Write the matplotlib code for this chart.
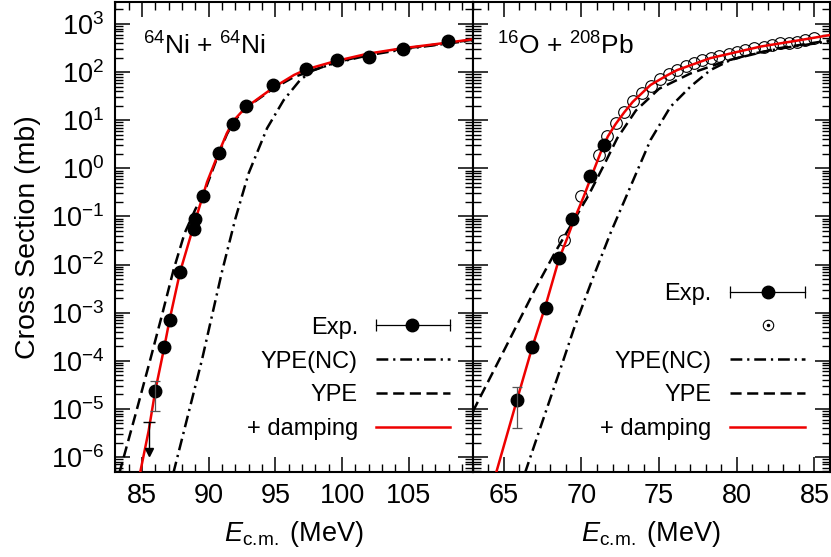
import numpy as np
import matplotlib
matplotlib.use("Agg")
import matplotlib.pyplot as plt
from matplotlib.ticker import LogLocator, MultipleLocator, NullFormatter, FixedLocator

plt.rcParams['font.family'] = ['Liberation Sans', 'DejaVu Sans']
plt.rcParams['mathtext.fontset'] = 'custom'
plt.rcParams['mathtext.rm'] = 'Liberation Sans'
plt.rcParams['mathtext.it'] = 'Liberation Sans:italic'
plt.rcParams['mathtext.bf'] = 'Liberation Sans:bold'
plt.rcParams['mathtext.default'] = 'regular'
plt.rcParams['lines.scale_dashes'] = False

# ---------------- Left panel: 64Ni + 64Ni ----------------
ni_exp_E = [85.98, 86.67, 87.07, 87.86, 88.87, 89.0, 89.55, 90.75, 91.83,
            92.82, 94.83, 97.33, 99.63, 102.0, 104.58, 107.98]
ni_exp_sig = [2.4e-5, 1.9e-4, 7.0e-4, 7.0e-3, 0.056, 0.089, 0.26, 2.1, 8.3,
              19.7, 54, 114, 178, 209, 298, 443]
ni_err_E = [85.98]
ni_err_sig = [2.4e-5]
ni_err_lo = [1.49e-5]
ni_err_hi = [1.4e-5]
ni_ul_E = [85.5]
ni_ul_sig = [5.4e-6]
ni_ul_tip = [1.3e-6]

ni_damp_E = [84.88, 85.5, 86.0, 86.67, 87.07, 87.86, 88.87, 89.55, 89.88, 90.75,
             91.37, 91.9, 92.82, 93.37, 94.87, 96.4, 97.33, 99.4, 101.9, 104.4,
             107.0, 109.8]
ni_damp_sig = [5.0e-7, 3.5e-6, 2.4e-5, 1.9e-4, 7.1e-4, 7.1e-3, 0.063, 0.26, 0.52, 2.1,
               5.4, 10, 19, 24, 48, 87, 114, 166, 240, 309,
               380, 479]

ni_ype_E = [83.3, 84.5, 85.62, 86.5, 87.37, 88.2, 89.0, 89.6, 90.75, 91.37,
            91.9, 92.82, 93.37, 94.87, 96.4, 97.9, 99.4, 101.9, 104.4, 107.0, 109.8]
ni_ype_sig = [4.6e-7, 7.4e-6, 1.05e-4, 8.9e-4, 7.8e-3, 0.045, 0.14, 0.28, 2.0, 5.1,
              9.5, 18, 23.4, 46, 79, 110, 155, 229, 302, 372, 468]

ni_nc_E = [87.35, 89.5, 91.0, 92.0, 93.0, 94.38, 95.62, 96.87, 97.87, 99.5,
           102.0, 105.0, 109.8]
ni_nc_sig = [4.6e-7, 1.05e-4, 7.1e-3, 0.089, 0.79, 6.8, 26, 69, 110, 155,
             224, 309, 457]

# ---------------- Right panel: 16O + 208Pb ----------------
pb_exp_E = [65.86, 66.83, 67.69, 68.54, 69.42, 70.54, 71.44]
pb_exp_sig = [1.55e-5, 1.9e-4, 1.26e-3, 0.0135, 0.09, 0.68, 3.0]
pb_err_E = [65.86]
pb_err_sig = [1.55e-5]
pb_err_lo = [1.15e-5]
pb_err_hi = [1.25e-5]

pb_open_E = [68.86, 69.94, 71.12, 71.66, 72.2, 72.75, 73.31, 73.87, 74.45, 75.05,
             75.62, 76.16, 76.7, 77.23, 77.77, 78.31, 78.84, 79.49, 80.03, 80.56,
             81.1, 81.74, 82.28, 82.81, 83.35, 83.89, 84.42, 84.96]
pb_open_sig = [0.032, 0.26, 1.9, 4.7, 8.7, 15, 25, 37, 51, 71,
               91, 110, 134, 157, 178, 193, 215, 238, 265, 288,
               312, 338, 362, 398, 410, 428, 455, 500]

pb_damp_E = [64.5, 65.86, 66.83, 67.69, 68.54, 69.08, 69.51, 70.15, 70.54, 71.23,
             71.7, 72.2, 72.75, 73.3, 74.45, 75.5, 76.16, 78.3, 81.53, 84.0, 86.0]
pb_damp_sig = [4.6e-7, 1.58e-5, 1.9e-4, 1.4e-3, 0.0126, 0.035, 0.083, 0.26, 0.56, 2.1,
               4.6, 8.3, 14.5, 24, 54, 85, 110, 195, 339, 457, 589]

pb_ype_E = [63.0, 65.0, 67.0, 68.33, 69.2, 70.47, 71.5, 72.3, 73.5, 75.0,
            77.0, 79.4, 82.6, 86.0]
pb_ype_sig = [8.7e-6, 1.6e-4, 3.0e-3, 0.0186, 0.056, 0.28, 1.26, 4.2, 15.8, 45,
              93, 174, 309, 457]

pb_nc_E = [66.36, 67.5, 68.76, 69.5, 70.69, 71.87, 73.16, 74.45, 75.73, 77.02,
           78.3, 79.6, 81.0, 83.0, 86.0]
pb_nc_sig = [4.6e-7, 5.6e-6, 8.7e-5, 4.5e-4, 4.8e-3, 0.045, 0.42, 3.9, 19, 50,
             110, 178, 240, 316, 437]

ni_xticks = [85, 90, 95, 100, 105]
pb_xticks = [65, 70, 75, 80, 85]
yticks = [1e-6, 1e-5, 1e-4, 1e-3, 1e-2, 1e-1, 1e0, 1e1, 1e2, 1e3]
legend_labels = ["Exp.", "YPE(NC)", "YPE", "+ damping"]

# ---------------- styling ----------------
RED = '#ee0000'
LW = 1.8
DASH = (0, (8, 4))
DASHDOT = (0, (8.5, 3.5, 1.6, 3.5))
TICKFS = 19.5
LABFS = 19.5
LEGFS = 17

fig = plt.figure(figsize=(8.31, 5.57), dpi=100)
W, H = 831.0, 557.0
bot = (H - 471.7) / H
hgt = 470.0 / H
ax1 = fig.add_axes([115.3 / W, bot, 357.4 / W, hgt])
ax2 = fig.add_axes([472.7 / W, bot, 357.3 / W, hgt])


def style(ax, xlim, xticks):
    ax.set_yscale('log')
    ax.set_xlim(*xlim)
    ax.set_ylim(4.95e-7, 2.9e3)
    ax.xaxis.set_major_locator(FixedLocator(xticks))
    ax.xaxis.set_minor_locator(MultipleLocator(1))
    ax.yaxis.set_major_locator(FixedLocator(yticks))
    ax.yaxis.set_minor_locator(LogLocator(base=10, subs=np.arange(2, 10), numticks=30))
    ax.yaxis.set_minor_formatter(NullFormatter())
    ax.tick_params(which='both', direction='in', top=True, right=True,
                   labelsize=TICKFS)
    ax.tick_params(which='major', length=10.5, width=1.1)
    ax.tick_params(which='minor', length=5.5, width=1.0)
    ax.tick_params(axis='x', which='major', pad=8)
    ax.tick_params(axis='y', which='major', pad=8)
    for s in ax.spines.values():
        s.set_linewidth(1.5)
    ax.set_xlabel(r'$\mathit{E}_\mathrm{c.\!m.}$ (MeV)', fontsize=LABFS, labelpad=7)


style(ax1, (83.0, 109.8), ni_xticks)
style(ax2, (63.0, 86.0), pb_xticks)
ax2.tick_params(axis='y', labelleft=False)
ax1.set_ylabel('Cross Section (mb)', fontsize=LABFS + 1, labelpad=7)

# ---- left curves ----
ax1.plot(ni_nc_E, ni_nc_sig, color='black', lw=LW, linestyle=DASHDOT)
ax1.plot(ni_ype_E, ni_ype_sig, color='black', lw=LW, linestyle=DASH)
ax1.plot(ni_damp_E, ni_damp_sig, color=RED, lw=LW, zorder=4)
ax1.plot(ni_exp_E, ni_exp_sig, 'o', color='black', ms=9, zorder=5)
ax1.errorbar(ni_err_E, ni_err_sig, yerr=[ni_err_lo, ni_err_hi], fmt='none',
             ecolor='#555555', elinewidth=0.9, capsize=3.5, capthick=0.9, zorder=5)
# upper limit
ax1.plot([ni_ul_E[0], ni_ul_E[0]], [ni_ul_sig[0], ni_ul_tip[0]], color='black', lw=1.0, zorder=5)
ax1.plot(ni_ul_E, ni_ul_sig, marker='_', color='black', ms=8, mew=1.0, zorder=5)
ax1.plot(ni_ul_E, ni_ul_tip, marker='v', color='black', ms=6, zorder=5)

# ---- right curves ----
ax2.plot(pb_nc_E, pb_nc_sig, color='black', lw=LW, linestyle=DASHDOT)
ax2.plot(pb_ype_E, pb_ype_sig, color='black', lw=LW, linestyle=DASH)
ax2.plot(pb_open_E, pb_open_sig, 'o', mfc='none', mec='black', mew=0.8, ms=8.4, zorder=3)
ax2.plot(pb_damp_E, pb_damp_sig, color=RED, lw=LW, zorder=4)
ax2.plot(pb_exp_E, pb_exp_sig, 'o', color='black', ms=9, zorder=5)
ax2.errorbar(pb_err_E, pb_err_sig, yerr=[pb_err_lo, pb_err_hi], fmt='none',
             ecolor='#555555', elinewidth=0.9, capsize=3.5, capthick=0.9, zorder=5)

# ---- panel labels ----
ax1.text(0.077, 0.887, r'$^{64}$Ni + $^{64}$Ni', transform=ax1.transAxes,
         fontsize=19, va='baseline', ha='left')
ax2.text(0.069, 0.887, r'$^{16}$O + $^{208}$Pb', transform=ax2.transAxes,
         fontsize=19, va='baseline', ha='left')


# ---- legends (drawn manually) ----
def legend(ax, xt, x0, x1, xm, rows, circle_row=None):
    tr = ax.transAxes
    off = 0.36 * LEGFS * 100 / 72 / 470.0
    for lab, y in zip(legend_labels, rows):
        ax.text(xt, y - off, lab, transform=tr, fontsize=LEGFS, ha='right',
                va='baseline')
    yE, yNC, yY, yD = rows
    ax.plot([x0, x1], [yE, yE], transform=tr, color='black', lw=0.9, clip_on=False)
    ax.plot([x0, x1], [yE, yE], transform=tr, ls='none', marker='|', ms=8,
            mew=0.9, color='black', clip_on=False)
    ax.plot([xm], [yE], transform=tr, marker='o', ms=9, color='black', clip_on=False)
    ax.plot([x0, x1], [yNC, yNC], transform=tr, color='black', lw=LW, linestyle=DASHDOT)
    ax.plot([x0, x1], [yY, yY], transform=tr, color='black', lw=LW, linestyle=DASH)
    ax.plot([x0, x1], [yD, yD], transform=tr, color=RED, lw=LW)
    if circle_row is not None:
        ax.plot([xm], [circle_row], transform=tr, marker='o', ms=7.5, mfc='none',
                mec='black', mew=0.8)
        ax.plot([xm], [circle_row], transform=tr, marker='o', ms=1.5, color='black')


legend(ax1, 0.679, 0.729, 0.937, 0.830, [0.312, 0.239, 0.168, 0.0957])
legend(ax2, 0.669, 0.720, 0.930, 0.826, [0.383, 0.239, 0.168, 0.0957],
       circle_row=0.312)

fig.savefig('out.png', dpi=100)
